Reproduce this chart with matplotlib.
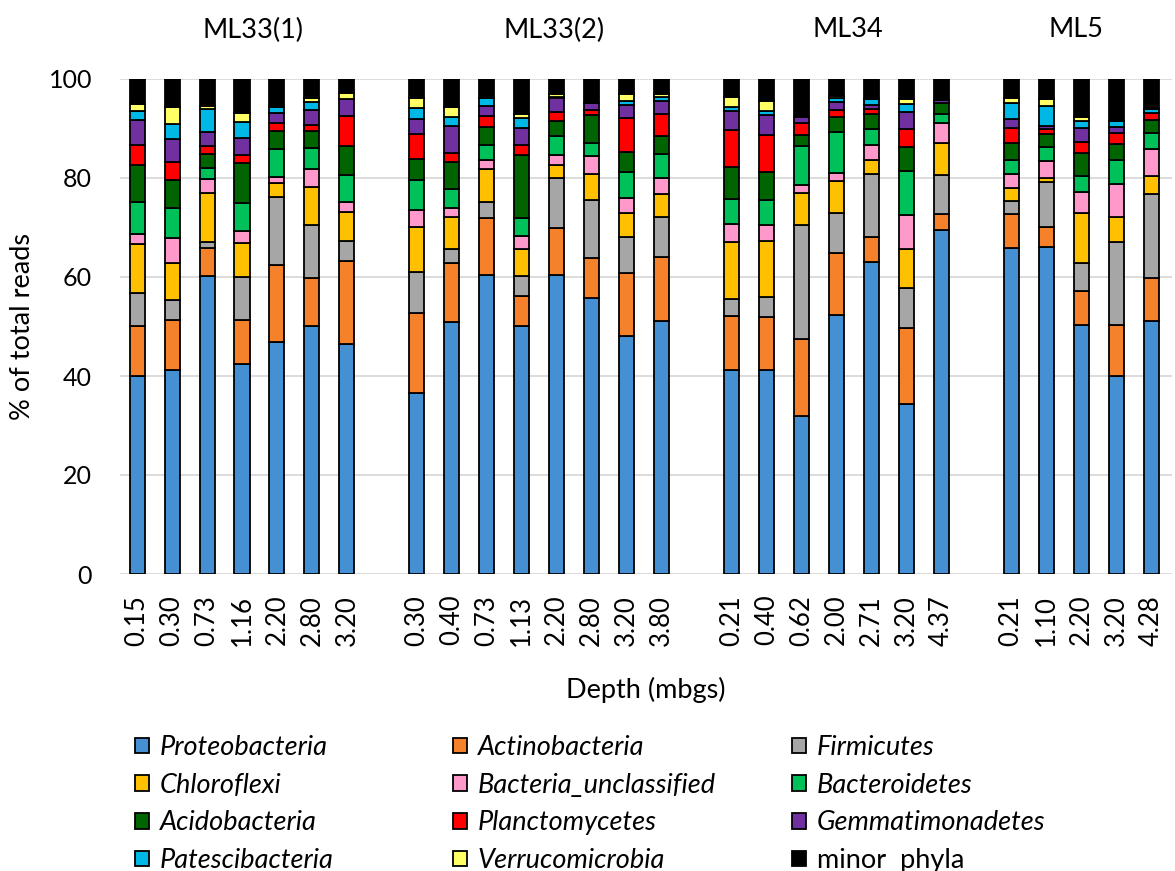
import matplotlib
matplotlib.use("Agg")
import matplotlib.pyplot as plt
import numpy as np

plt.rcParams['font.family'] = ['Lato', 'DejaVu Sans']

# ---------------- data ----------------
sites = ['ML33(1)', 'ML33(2)', 'ML34', 'ML5']
depths_ml33_1 = ['0.15', '0.30', '0.73', '1.16', '2.20', '2.80', '3.20']
depths_ml33_2 = ['0.30', '0.40', '0.73', '1.13', '2.20', '2.80', '3.20', '3.80']
depths_ml34 = ['0.21', '0.40', '0.62', '2.00', '2.71', '3.20', '4.37']
depths_ml5 = ['0.21', '1.10', '2.20', '3.20', '4.28']

phyla = ['Proteobacteria', 'Actinobacteria', 'Firmicutes', 'Chloroflexi',
         'Bacteria_unclassified', 'Bacteroidetes', 'Acidobacteria',
         'Planctomycetes', 'Gemmatimonadetes', 'Patescibacteria',
         'Verrucomicrobia', 'minor  phyla']

proteobacteria = [40.0, 41.2, 60.2, 42.5, 46.8, 50.0, 46.4,
                  36.5, 51.0, 60.4, 50.1, 60.4, 55.8, 48.0, 51.2,
                  41.2, 41.2, 31.9, 52.3, 63.1, 34.3, 69.4,
                  65.9, 66.1, 50.3, 39.9, 51.2]
actinobacteria = [10.1, 10.1, 5.6, 8.9, 15.6, 9.7, 16.9,
                  16.2, 11.8, 11.6, 6.1, 9.4, 8.0, 12.9, 12.9,
                  11.0, 10.8, 15.6, 12.6, 5.0, 15.3, 3.3,
                  6.8, 4.1, 6.9, 10.4, 8.5]
firmicutes = [6.7, 4.1, 1.3, 8.5, 13.8, 10.9, 4.0,
              8.4, 2.8, 3.1, 4.0, 10.1, 11.8, 7.2, 8.0,
              3.3, 4.0, 23.1, 8.1, 12.7, 8.1, 7.9,
              2.7, 8.9, 5.7, 16.8, 17.1]
chloroflexi = [9.9, 7.4, 9.9, 7.0, 2.7, 7.6, 5.8,
               8.9, 6.5, 6.7, 5.4, 2.7, 5.3, 4.9, 4.7,
               11.5, 11.3, 6.4, 6.3, 2.8, 7.9, 6.5,
               2.6, 0.8, 10.0, 5.1, 3.6]
bacteria_unclassified = [1.9, 5.0, 2.7, 2.4, 1.4, 3.6, 2.0,
                         3.5, 1.8, 1.8, 2.7, 2.0, 3.5, 2.9, 3.1,
                         3.7, 3.2, 1.6, 1.8, 3.1, 6.9, 4.1,
                         2.9, 3.5, 4.3, 6.5, 5.4]
bacteroidetes = [6.6, 6.2, 2.3, 5.7, 5.6, 4.2, 5.5,
                 6.1, 3.8, 3.1, 3.7, 3.8, 2.7, 5.4, 4.9,
                 5.0, 5.1, 7.9, 8.1, 3.1, 8.9, 1.7,
                 2.7, 2.8, 3.2, 4.9, 3.2]
acidobacteria = [7.4, 5.6, 2.8, 8.0, 3.6, 3.5, 5.9,
                 4.2, 5.6, 3.7, 12.6, 3.1, 5.6, 4.0, 3.7,
                 6.6, 5.7, 2.1, 3.1, 3.1, 4.9, 2.2,
                 3.5, 2.6, 4.6, 3.3, 2.7]
planctomycetes = [4.1, 3.7, 1.7, 1.6, 1.7, 1.3, 6.1,
                  5.1, 1.7, 2.2, 2.1, 1.9, 1.0, 6.8, 4.4,
                  7.3, 7.3, 2.6, 1.4, 1.0, 3.6, 0.0,
                  2.9, 1.0, 2.3, 2.1, 1.4]
gemmatimonadetes = [5.0, 4.5, 2.7, 3.5, 2.0, 2.9, 3.3,
                    3.0, 5.5, 1.9, 3.5, 2.7, 1.4, 2.6, 2.7,
                    4.0, 4.1, 1.2, 1.6, 0.8, 3.5, 0.7,
                    1.9, 0.7, 2.7, 1.4, 0.0]
patescibacteria = [1.8, 3.2, 4.7, 3.3, 1.2, 1.7, 0.0,
                   2.3, 1.9, 1.6, 1.9, 0.3, 0.0, 0.9, 0.8,
                   0.8, 0.9, 0.0, 0.8, 1.2, 1.5, 0.0,
                   3.3, 4.1, 1.6, 1.1, 0.8]
verrucomicrobia = [1.4, 3.3, 0.6, 1.7, 0.0, 0.7, 1.2,
                   1.9, 2.0, 0.0, 0.8, 0.5, 0.0, 1.3, 0.6,
                   1.9, 2.0, 0.0, 0.5, 0.0, 1.0, 0.0,
                   1.0, 1.3, 0.8, 0.0, 0.0]
minor_phyla = [5.1, 5.7, 5.5, 6.9, 5.6, 3.9, 2.9,
               3.9, 5.6, 3.9, 7.1, 3.1, 4.9, 3.1, 3.0,
               3.7, 4.4, 7.6, 3.4, 4.1, 4.1, 4.2,
               3.8, 4.1, 7.6, 8.5, 6.1]

series = [proteobacteria, actinobacteria, firmicutes, chloroflexi,
          bacteria_unclassified, bacteroidetes, acidobacteria,
          planctomycetes, gemmatimonadetes, patescibacteria,
          verrucomicrobia, minor_phyla]

colors = ['#4590D3', '#F5822A', '#A6A6A6', '#FFC000', '#FF99CC', '#00C05A',
          '#006400', '#FF0000', '#7030A0', '#00B8E6', '#FFFF66', '#000000']

# ---------------- positions ----------------
groups = [depths_ml33_1, depths_ml33_2, depths_ml34, depths_ml5]
positions = []
labels = []
start = 0
for g in groups:
    positions += list(range(start, start + len(g)))
    labels += g
    start += len(g) + 1
positions = np.array(positions, dtype=float)

fig = plt.figure(figsize=(11.75, 8.71), dpi=100)
ax = fig.add_axes([120 / 1175, 1 - 574 / 871, (1172 - 120) / 1175, 495 / 871])

bottom = np.zeros(len(positions))
handles = []
for vals, col, name in zip(series, colors, phyla):
    v = np.array(vals)
    b = ax.bar(positions, v, bottom=bottom, width=0.43, color=col,
               edgecolor='black', linewidth=1.3, label=name, zorder=3)
    handles.append(b)
    bottom += v

ax.set_ylim(0, 100)
ax.set_xlim(-0.49, 29.6)
ax.set_yticks([0, 20, 40, 60, 80, 100])
ax.yaxis.grid(True, color='#D9D9D9', linewidth=1.3, zorder=0)
ax.set_axisbelow(True)
for s in ax.spines.values():
    s.set_visible(False)
ax.set_xticks(positions)
ax.set_xticklabels(labels, rotation=90, fontsize=18.5)
ax.tick_params(axis='x', length=0, pad=15)
ax.tick_params(axis='y', length=0, pad=20, labelsize=18)

ax.set_ylabel('% of total reads', fontsize=19.5)
ax.yaxis.set_label_coords(-0.0805, 0.5)
ax.set_xlabel('Depth (mbgs)', fontsize=19.5)
ax.xaxis.set_label_coords(0.5, -0.207)

# site titles
title_x = [3.31, 11.92, 20.33, 26.85]
for name, x in zip(sites, title_x):
    ax.text(x, 109.9, name, ha='center', va='center', fontsize=19.5, clip_on=False)

# legend: three columns laid out row by row
col_x = [135 / 1175, 453 / 1175, 792 / 1175]
for c in range(3):
    hs = [handles[r * 3 + c] for r in range(4)]
    ns = [phyla[r * 3 + c] for r in range(4)]
    leg = fig.legend(hs, ns, loc='upper left',
                     bbox_to_anchor=(col_x[c], 1 - 735 / 871),
                     frameon=False, fontsize=19.5, borderpad=0, borderaxespad=0,
                     handlelength=0.5, handleheight=0.5, handletextpad=0.42,
                     labelspacing=0.47)
    for t in leg.get_texts():
        if t.get_text() != 'minor  phyla':
            t.set_fontstyle('italic')

fig.savefig('out.png', dpi=100)
